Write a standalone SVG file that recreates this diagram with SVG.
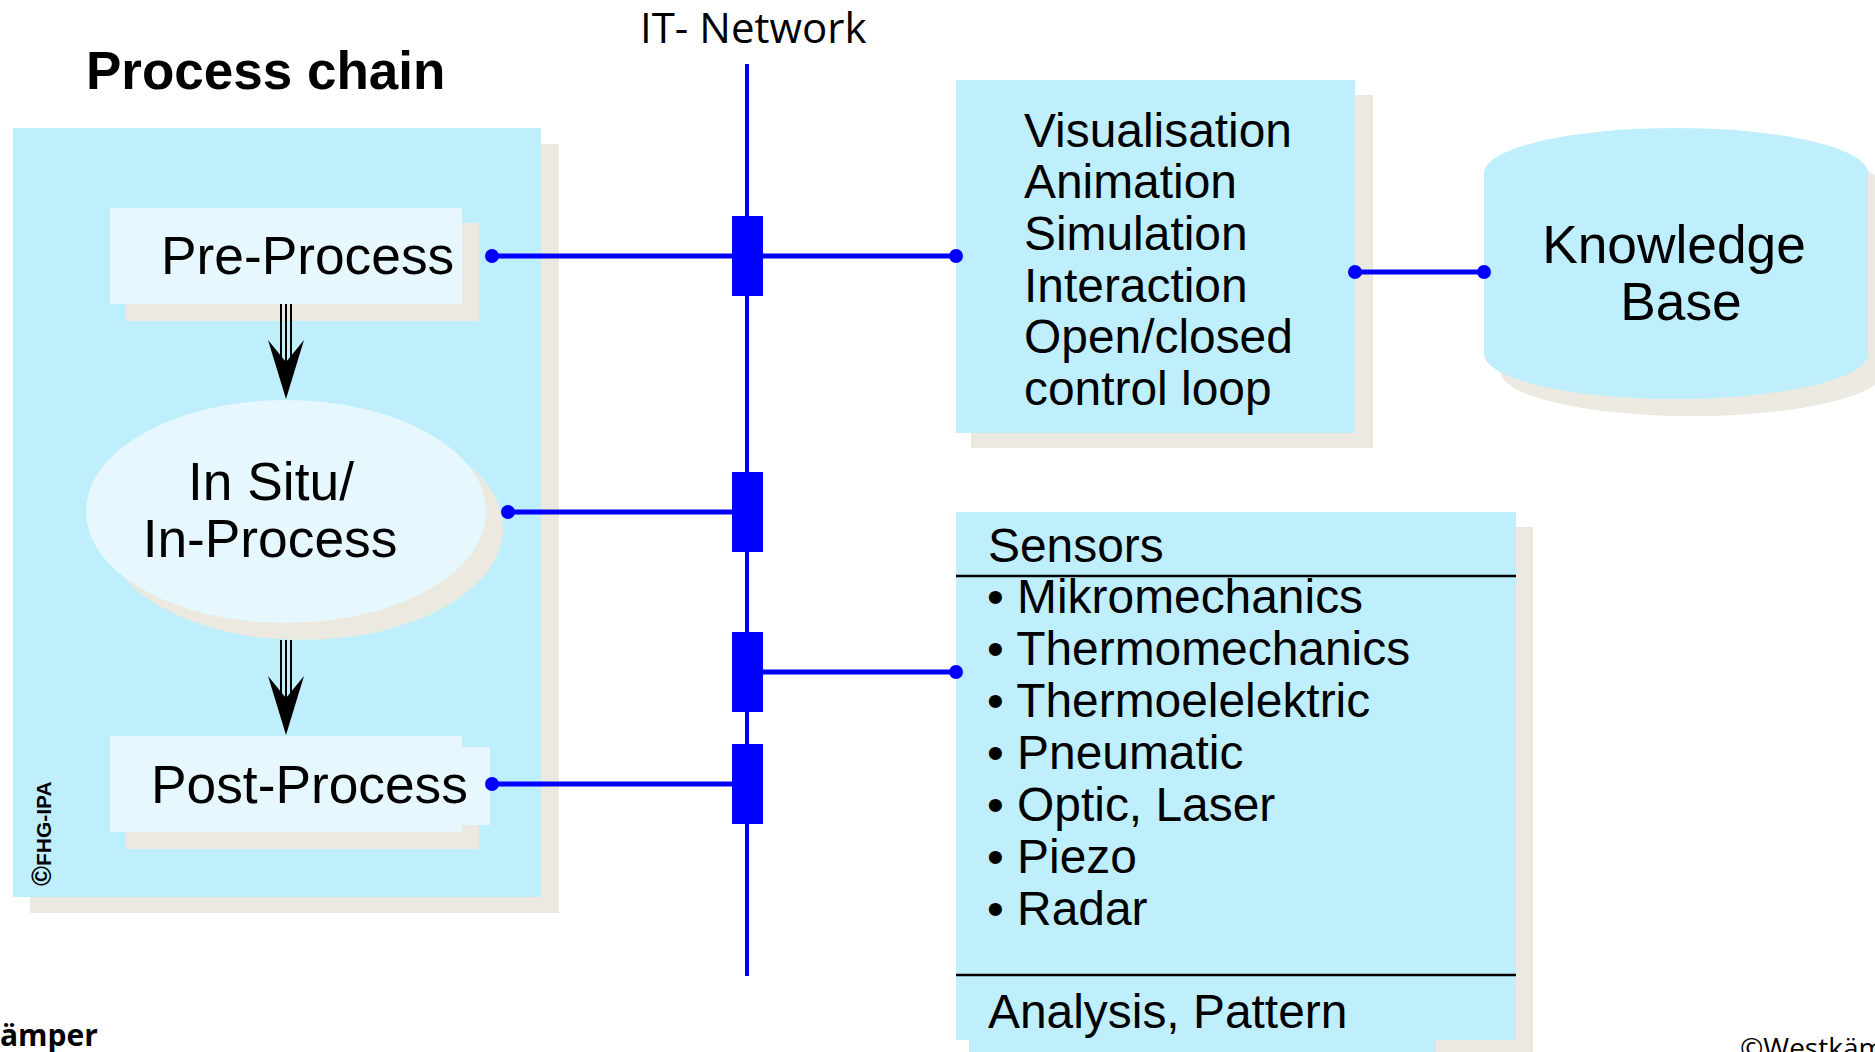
<svg xmlns="http://www.w3.org/2000/svg" width="1875" height="1052" viewBox="0 0 1875 1052">
<style>
.bg{fill:#BFEFFD}
.inner{fill:#E6F8FD}
.sh{fill:#ECEAE0}
.t{font-family:"Liberation Sans",Arial,sans-serif;fill:#000}
.t52{font-size:53.3px}
.t47{font-size:47.9px}
.bus{stroke:#0000FF;fill:none}
.dot{fill:#0000FF}
.blk{fill:#0000FF}
.shaft{stroke:#000;stroke-width:2}
.rule{stroke:#000;stroke-width:2.5}
</style>
<defs>
<path id="head" d="M0,0 L-18,-59 L0,-37 L18,-59 Z" fill="#000"/>
</defs>
<rect width="1875" height="1052" fill="#fff"/>

<g id="process-chain">
<rect class="sh" x="30" y="144" width="529" height="769"/>
<rect class="bg" x="13" y="128" width="528" height="769"/>
<text id="fhg" class="t" x="51" y="886" font-size="21" font-weight="bold" transform="rotate(-90 51 886)"><tspan font-size="27">©</tspan>FHG-IPA</text>
</g>

<g id="pre-process">
<rect class="sh" x="126" y="223" width="353" height="98"/>
<rect class="inner" x="110" y="208" width="352" height="96"/>
<text class="t t52" x="161" y="274">Pre-Process</text>
</g>

<g id="flow-arrows">
<line class="shaft" x1="281" y1="304" x2="281" y2="366"/>
<line class="shaft" x1="286" y1="304" x2="286" y2="366"/>
<line class="shaft" x1="291" y1="304" x2="291" y2="366"/>
<use href="#head" x="286" y="399"/>
<line class="shaft" x1="281" y1="640" x2="281" y2="702"/>
<line class="shaft" x1="286" y1="640" x2="286" y2="702"/>
<line class="shaft" x1="291" y1="640" x2="291" y2="702"/>
<use href="#head" x="286" y="735"/>
</g>

<g id="in-situ">
<ellipse class="sh" cx="303" cy="528" rx="200" ry="112"/>
<ellipse class="inner" cx="286" cy="511.5" rx="200" ry="111.5"/>
<text class="t t52" x="271" y="500" text-anchor="middle">In Situ/</text>
<text class="t t52" x="270" y="557" text-anchor="middle">In-Process</text>
</g>

<g id="post-process">
<rect class="sh" x="126" y="752" width="353" height="97"/>
<rect class="inner" x="110" y="736" width="352" height="96"/>
<rect class="inner" x="140" y="747" width="350" height="78"/>
<text class="t t52" x="151" y="803">Post-Process</text>
</g>

<g id="visualisation">
<rect class="sh" x="971" y="95" width="402" height="353"/>
<rect class="bg" x="956" y="80" width="399" height="353"/>
<text class="t t47" x="1024" y="147">Visualisation</text>
<text class="t t47" x="1024" y="198">Animation</text>
<text class="t t47" x="1024" y="250">Simulation</text>
<text class="t t47" x="1024" y="302">Interaction</text>
<text class="t t47" x="1024" y="353">Open/closed</text>
<text class="t t47" x="1024" y="405">control loop</text>
</g>

<g id="knowledge-base">
<path class="sh" d="M1500,189 A192,45 0 0 1 1884,189 L1884,371 A192,45 0 0 1 1500,371 Z"/>
<path class="bg" d="M1484,173 A192,45 0 0 1 1868,173 L1868,354 A192,45 0 0 1 1484,354 Z"/>
<text class="t t52" x="1674" y="263" text-anchor="middle">Knowledge</text>
<text class="t t52" x="1681" y="320" text-anchor="middle">Base</text>
</g>

<g id="sensors">
<rect class="sh" x="971" y="527" width="562" height="540"/>
<rect class="bg" x="956" y="512" width="560" height="528"/>
<rect class="bg" x="969" y="1040" width="467" height="20"/>
<line class="rule" x1="956" y1="576" x2="1516" y2="576"/>
<line class="rule" x1="956" y1="975" x2="1516" y2="975"/>
<text class="t t47" x="988" y="562">Sensors</text>
<text class="t t47" x="987" y="613">• Mikromechanics</text>
<text class="t t47" x="987" y="665">• Thermomechanics</text>
<text class="t t47" x="987" y="717">• Thermoelelektric</text>
<text class="t t47" x="987" y="769">• Pneumatic</text>
<text class="t t47" x="987" y="821">• Optic, Laser</text>
<text class="t t47" x="987" y="873">• Piezo</text>
<text class="t t47" x="987" y="925">• Radar</text>
<text class="t t47" x="988" y="1028">Analysis, Pattern</text>
</g>

<g id="connectors">
<line class="bus" stroke-width="4" x1="747" y1="64" x2="747" y2="976"/>
<line class="bus" stroke-width="5" x1="492" y1="256" x2="956" y2="256"/>
<line class="bus" stroke-width="5" x1="508" y1="512" x2="747" y2="512"/>
<line class="bus" stroke-width="5" x1="747" y1="672" x2="956" y2="672"/>
<line class="bus" stroke-width="5" x1="492" y1="784" x2="747" y2="784"/>
<line class="bus" stroke-width="5" x1="1355" y1="272" x2="1484" y2="272"/>
<rect class="blk" x="732" y="216" width="31" height="80"/>
<rect class="blk" x="732" y="472" width="31" height="80"/>
<rect class="blk" x="732" y="632" width="31" height="80"/>
<rect class="blk" x="732" y="744" width="31" height="80"/>
<circle class="dot" cx="492" cy="256" r="7"/>
<circle class="dot" cx="956" cy="256" r="7"/>
<circle class="dot" cx="508" cy="512" r="7"/>
<circle class="dot" cx="956" cy="672" r="7"/>
<circle class="dot" cx="492" cy="784" r="7"/>
<circle class="dot" cx="1355" cy="272" r="7"/>
<circle class="dot" cx="1484" cy="272" r="7"/>
</g>

<g id="labels">
<text class="t" x="86" y="89" font-size="53" font-weight="bold">Process chain</text>
<text x="640" y="43" font-family="'Open Sans','Noto Sans',sans-serif" font-size="42">IT- Network</text>
<text x="0" y="1046" font-family="'Open Sans','Noto Sans',sans-serif" font-size="30" font-weight="bold">ämper</text>
<text x="1740" y="1058" font-family="'Open Sans','Noto Sans',sans-serif" font-size="28">©Westkäm</text>
</g>
</svg>
